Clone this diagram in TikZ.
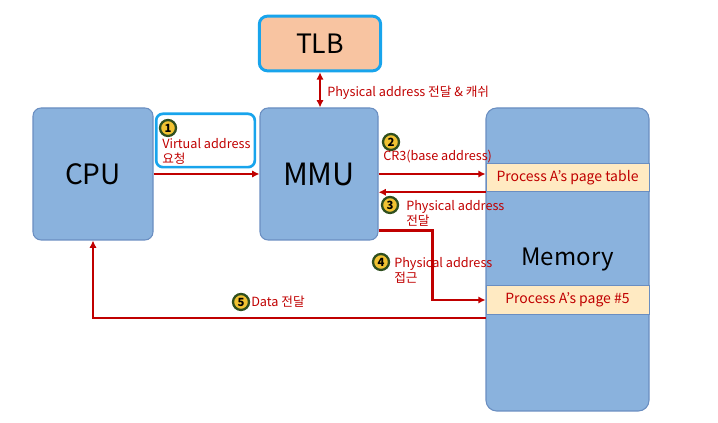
\documentclass[tikz,border=0pt]{standalone}
\usepackage{fontspec}
\setmainfont{Noto Sans CJK KR}
\usetikzlibrary{arrows.meta}
\usetikzlibrary{calc}
\definecolor{boxblue}{HTML}{8AB2DD}
\definecolor{boxedge}{HTML}{6A8EC1}
\definecolor{tlbfill}{HTML}{F8C4A1}
\definecolor{cyanedge}{HTML}{18A4EC}
\definecolor{bandfill}{HTML}{FFEAC2}
\definecolor{flowred}{HTML}{C00000}
\definecolor{numfill}{HTML}{F1C232}
\definecolor{numedge}{HTML}{2F4F1F}

\begin{document}
\begin{tikzpicture}[x=0.75pt, y=-0.75pt,
	unit/.style={draw=boxedge, fill=boxblue, rounded corners=6pt, line width=0.8pt, font=\fontsize{21}{25}\selectfont},
	band/.style={draw=boxedge, fill=bandfill, line width=0.6pt, minimum width=122.25pt, minimum height=21.5pt, inner sep=0pt, text=flowred, font=\fontsize{10.5}{12}\selectfont},
	flow/.style={draw=flowred, line width=1.8pt, -{Latex[length=5.5pt,width=5.5pt]}},
	num/.style={circle, draw=numedge, fill=numfill, line width=1.7pt, inner sep=0pt, minimum size=12pt, font=\fontsize{8.5}{8.5}\selectfont\bfseries},
	lbl/.style={text=flowred, anchor=west, inner sep=0pt, align=left, font=\fontsize{9.5}{11.25}\selectfont}]
	\useasboundingbox (0,0) rectangle (718,423);

	\node[unit, minimum width=90pt, minimum height=99pt] (cpu) at (93,174) {CPU};
	\node[unit, minimum width=88.5pt, minimum height=99pt, font=\fontsize{23}{27}\selectfont] (mmu) at (319,174) {MMU};
	\node[unit, draw=cyanedge, fill=tlbfill, line width=2.2pt, minimum width=91pt, minimum height=41pt, font=\fontsize{20}{24}\selectfont] (tlb) at (320,43.5) {TLB};
	\node[unit, rounded corners=8pt, minimum width=122.25pt, minimum height=227.25pt, font=\fontsize{18}{21}\selectfont] (mem) at (567.5,259.5) {Memory};
	\node[band] (ptable) at (567.5,177.5) {Process A's page table};
	\node[band] (page5) at (567.5,300) {Process A's page \#5};
	\node[draw=cyanedge, line width=2pt, rounded corners=5pt, minimum width=74pt, minimum height=40pt] (vabox) at (205.5,140.5) {};

	\draw[flow] (cpu.east) -- (mmu.west);
	\draw[flow, {Latex[length=5.5pt,width=5.5pt]}-{Latex[length=5.5pt,width=5.5pt]}] (tlb.south) -- (tlb.south |- mmu.north);
	\draw[flow] (mmu.east) -- (mmu.east -| ptable.west);
	\draw[flow] (ptable.south west) -- (ptable.south west -| mmu.east);
	\coordinate (m4) at ($(mmu.south east)+(0,-10)$);
	\draw[flow] (m4) -| ($(page5.west)+(-53,0)$) -- (page5.west);
	\draw[flow] ($(page5.south west)+(0,3)$) -| (cpu.south);

	\node[lbl] (l0) at (327,93) {Physical address 전달 \& 캐쉬};
	\node[num] (n1) at (168,128) {1};
	\node[lbl, anchor=north west] (l1) at (162,138) {Virtual address\\요청};
	\node[num] (n2) at (391,142) {2};
	\node[lbl] (l2) at (383,157) {CR3(base address)};
	\node[num] (n3) at (390,205) {3};
	\node[lbl, anchor=north west] (l3) at (406,200) {Physical address\\전달};
	\node[num] (n4) at (381,262) {4};
	\node[lbl, anchor=north west] (l4) at (394,257) {Physical address\\접근};
	\node[num] (n5) at (241,302) {5};
	\node[lbl] (l5) at (251,302) {Data 전달};
\end{tikzpicture}
\end{document}
